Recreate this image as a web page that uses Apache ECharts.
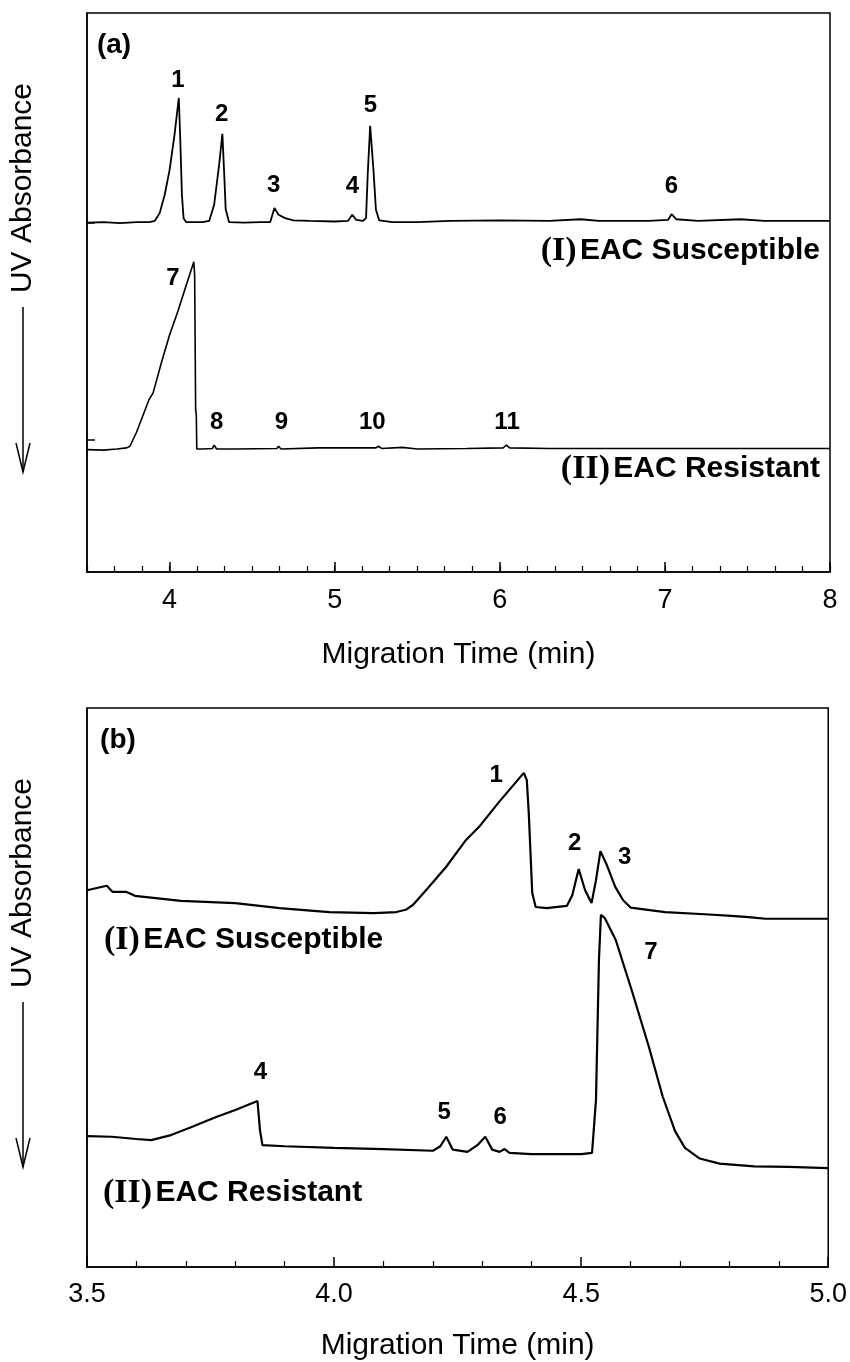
<!DOCTYPE html>
<html>
<head>
<meta charset="utf-8">
<script src="https://cdn.jsdelivr.net/npm/echarts@6/dist/echarts.min.js"></script>
<style>
  html, body { margin: 0; background: #fff; }
  #chart { width: 850px; height: 1362px; }
</style>
</head>
<body>
<div id="chart"></div>
<script>
// migration time (min), UV absorbance (arbitrary units, 0-100 per panel)
var traceA_susceptible = [
  [3.50, 62.5], [3.60, 62.6], [3.70, 62.4], [3.80, 62.6], [3.88, 62.6], [3.91, 62.8],
  [3.94, 64.2], [3.97, 67.4], [4.00, 71.9], [4.03, 78.2], [4.056, 84.8], [4.065, 77.3],
  [4.075, 67.4], [4.085, 63.3], [4.10, 62.6], [4.20, 62.6], [4.24, 62.8], [4.27, 65.7],
  [4.30, 72.8], [4.32, 78.4], [4.33, 71.9], [4.34, 64.9], [4.36, 62.6], [4.45, 62.5],
  [4.55, 62.6], [4.61, 62.6], [4.635, 65.1], [4.66, 63.9], [4.70, 63.3], [4.75, 62.9],
  [4.85, 62.8], [5.00, 62.7], [5.08, 62.8], [5.107, 63.9], [5.13, 63.0], [5.17, 62.8],
  [5.19, 63.3], [5.20, 71.0], [5.215, 79.8], [5.235, 71.9], [5.25, 64.8], [5.27, 62.9],
  [5.35, 62.6], [5.50, 62.6], [5.70, 62.8], [6.00, 62.9], [6.30, 62.8], [6.49, 63.1],
  [6.60, 62.8], [6.90, 62.8], [7.02, 63.0], [7.04, 64.0], [7.07, 63.1], [7.20, 62.8],
  [7.46, 63.1], [7.60, 62.8], [8.00, 62.8]
];
var traceA_resistant = [
  [3.50, 21.9], [3.60, 21.8], [3.68, 22.0], [3.74, 22.2], [3.76, 22.5], [3.80, 25.0],
  [3.84, 28.1], [3.875, 30.8], [3.885, 31.3], [3.90, 32.0], [3.95, 37.4], [4.00, 42.4],
  [4.05, 46.6], [4.10, 51.2], [4.147, 55.5], [4.152, 53.1], [4.158, 29.0], [4.162, 28.1],
  [4.165, 22.0], [4.20, 22.0], [4.26, 22.1], [4.27, 22.7], [4.285, 22.0], [4.40, 22.0],
  [4.65, 22.1], [4.66, 22.5], [4.675, 22.0], [4.90, 22.2], [5.15, 22.2], [5.25, 22.2],
  [5.265, 22.5], [5.285, 22.1], [5.41, 22.3], [5.50, 22.0], [5.80, 22.1], [6.02, 22.2],
  [6.04, 22.7], [6.06, 22.2], [6.30, 22.1], [6.80, 22.1], [7.20, 22.1], [8.00, 22.1]
];
var traceB_susceptible = [
  [3.50, 67.4], [3.52, 67.8], [3.54, 68.2], [3.552, 67.1], [3.58, 67.1], [3.597, 66.4],
  [3.69, 65.5], [3.80, 65.1], [3.89, 64.2], [3.99, 63.5], [4.08, 63.3], [4.126, 63.5],
  [4.145, 63.9], [4.16, 64.8], [4.19, 67.8], [4.227, 71.6], [4.267, 76.4], [4.293, 78.7],
  [4.334, 83.2], [4.384, 88.4], [4.39, 87.1], [4.394, 81.2], [4.401, 66.9], [4.408, 64.4],
  [4.43, 64.2], [4.471, 64.6], [4.482, 66.5], [4.495, 71.2], [4.508, 67.4], [4.521, 65.1],
  [4.53, 69.2], [4.539, 74.4], [4.552, 71.9], [4.569, 68.0], [4.585, 65.6], [4.60, 64.3],
  [4.67, 63.5], [4.75, 63.1], [4.804, 62.8], [4.839, 62.6], [4.873, 62.3], [5.00, 62.3]
];
var traceB_resistant = [
  [3.50, 23.4], [3.55, 23.3], [3.60, 22.9], [3.63, 22.7], [3.67, 23.6], [3.708, 24.9],
  [3.76, 26.8], [3.80, 28.1], [3.845, 29.7], [3.85, 24.5], [3.855, 21.8], [3.90, 21.6],
  [4.00, 21.3], [4.10, 21.1], [4.20, 20.8], [4.215, 21.6], [4.227, 23.3], [4.24, 21.0],
  [4.27, 20.6], [4.29, 21.8], [4.306, 23.3], [4.32, 21.0], [4.335, 20.6], [4.345, 21.1],
  [4.355, 20.4], [4.40, 20.2], [4.50, 20.2], [4.522, 20.4], [4.53, 29.9], [4.536, 54.9],
  [4.54, 63.0], [4.548, 62.4], [4.57, 58.5], [4.602, 49.6], [4.637, 39.4], [4.665, 30.5],
  [4.69, 24.3], [4.71, 21.3], [4.74, 19.4], [4.78, 18.5], [4.85, 18.0], [4.92, 17.9],
  [5.00, 17.7]
];
// peak numbers [time, absorbance, label]
var peakLabelsA = [
  [4.05, 88.0, '1'], [4.316, 81.8, '2'], [4.63, 69.2, '3'], [5.107, 68.9, '4'],
  [5.216, 83.4, '5'], [7.04, 68.9, '6'], [4.02, 52.6, '7'], [4.286, 26.7, '8'],
  [4.678, 26.7, '9'], [5.228, 26.7, '10'], [6.044, 26.8, '11']
];
var peakLabelsB = [
  [4.328, 88.0, '1'], [4.487, 75.8, '2'], [4.588, 73.3, '3'], [3.851, 34.9, '4'],
  [4.223, 27.7, '5'], [4.336, 26.7, '6'], [4.641, 56.2, '7']
];
var majorTicksA = [4, 5, 6, 7, 8];
var baselineTicksA = [62.4, 23.6];

var chart = echarts.init(document.getElementById('chart'));
var black = '#000';
var sans = 'Liberation Sans, Arial, sans-serif';
var narrow = 'Liberation Sans Narrow, Arial Narrow, Liberation Sans, sans-serif';

function traceSeries(data, xi, width) {
  return {
    type: 'line', xAxisIndex: xi, yAxisIndex: xi === 0 ? 0 : 1,
    data: data, showSymbol: false, symbol: 'none', smooth: false,
    lineStyle: { color: black, width: width },
    animation: false, silent: true
  };
}
function labelSeries(data, xi) {
  return {
    type: 'scatter', xAxisIndex: xi, yAxisIndex: xi === 0 ? 0 : 1,
    data: data, symbolSize: 1, itemStyle: { color: 'transparent', opacity: 1 },
    label: {
      show: true, position: 'inside', color: black, opacity: 1,
      fontFamily: sans, fontWeight: 'bold', fontSize: 24,
      formatter: function (p) { return p.data[2]; }
    },
    animation: false, silent: true
  };
}

var rich = {
  r: { fontFamily: 'Liberation Serif, Times New Roman, serif', fontWeight: 'bold', fontSize: 34, fill: black },
  b: { fontFamily: sans, fontWeight: 'bold', fontSize: 30, fill: black }
};
function seriesText(x, y, txt, align) {
  return {
    type: 'text', x: x, y: y,
    style: { text: txt, rich: rich, align: align, verticalAlign: 'middle', fill: black }
  };
}
function yTitle(offset) {
  return [
    { type: 'text', x: 23, y: 188 + offset, rotation: Math.PI / 2,
      style: { text: 'UV Absorbance', font: '30px ' + sans, fill: black, align: 'center', verticalAlign: 'middle' } },
    { type: 'line', shape: { x1: 23, y1: 307 + offset, x2: 23, y2: 472 + offset },
      style: { stroke: black, lineWidth: 1.5 } },
    { type: 'polyline', shape: { points: [[16, 443 + offset], [23, 472 + offset], [30, 443 + offset]] },
      style: { stroke: black, lineWidth: 1.5, fill: null } }
  ];
}

var axisLineStyle = { color: black, width: 1.5 };

chart.setOption({
  animation: false,
  grid: [
    { left: 87, top: 13, width: 743, height: 559, show: true, borderColor: black, borderWidth: 1.5 },
    { left: 87, top: 708, width: 743, height: 559, show: true, borderColor: black, borderWidth: 1.5 }
  ],
  xAxis: [
    { gridIndex: 0, type: 'value', min: 3.5, max: 8, position: 'bottom',
      axisLine: { lineStyle: axisLineStyle },
      axisTick: { inside: true, length: 10, customValues: majorTicksA, lineStyle: axisLineStyle },
      axisLabel: { customValues: majorTicksA, color: black, fontFamily: narrow, fontSize: 27, margin: 15 },
      splitLine: { show: false },
      name: 'Migration Time (min)', nameLocation: 'middle', nameGap: 68,
      nameTextStyle: { color: black, fontFamily: sans, fontSize: 30 } },
    { gridIndex: 1, type: 'value', min: 3.5, max: 5, interval: 0.5, position: 'bottom',
      axisLine: { lineStyle: axisLineStyle },
      axisTick: { inside: true, length: 10, lineStyle: axisLineStyle },
      minorTick: { show: true, splitNumber: 5, length: 6, lineStyle: { color: black, width: 1.2 } },
      axisLabel: { color: black, fontFamily: narrow, fontSize: 27, margin: 14,
        formatter: function (v) { return v.toFixed(1); } },
      splitLine: { show: false }, minorSplitLine: { show: false },
      name: 'Migration Time (min)', nameLocation: 'middle', nameGap: 64,
      nameTextStyle: { color: black, fontFamily: sans, fontSize: 30 } },
    // minor ticks every 10 s for panel (a)
    { gridIndex: 0, type: 'value', min: 3.5, max: 8, interval: 0.5, position: 'bottom', offset: 0,
      axisLine: { show: false },
      axisTick: { inside: true, length: 6, lineStyle: { color: black, width: 1.2 } },
      minorTick: { show: true, splitNumber: 3, length: 6, lineStyle: { color: black, width: 1.2 } },
      axisLabel: { show: false }, splitLine: { show: false }, minorSplitLine: { show: false } }
  ],
  yAxis: [
    { gridIndex: 0, type: 'value', min: 0, max: 100,
      axisLine: { show: true, lineStyle: axisLineStyle },
      axisTick: { show: true, inside: true, length: 8, customValues: baselineTicksA, lineStyle: axisLineStyle },
      axisLabel: { show: false }, splitLine: { show: false } },
    { gridIndex: 1, type: 'value', min: 0, max: 100,
      axisLine: { show: true, lineStyle: axisLineStyle },
      axisTick: { show: false }, axisLabel: { show: false }, splitLine: { show: false } }
  ],
  series: [
    traceSeries(traceA_susceptible, 0, 1.8),
    traceSeries(traceA_resistant, 0, 1.6),
    traceSeries(traceB_susceptible, 1, 2.2),
    traceSeries(traceB_resistant, 1, 2.2),
    labelSeries(peakLabelsA, 0),
    labelSeries(peakLabelsB, 1)
  ],
  graphic: [
    { type: 'text', x: 114, y: 45, style: { text: '(a)', font: 'bold 28px ' + sans, fill: black, align: 'center', verticalAlign: 'middle' } },
    { type: 'text', x: 118, y: 740, style: { text: '(b)', font: 'bold 28px ' + sans, fill: black, align: 'center', verticalAlign: 'middle' } },
    seriesText(820, 251, '{r|(I)} {b|EAC Susceptible}', 'right'),
    seriesText(820, 469, '{r|(II)} {b|EAC Resistant}', 'right'),
    seriesText(104, 940, '{r|(I)} {b|EAC Susceptible}', 'left'),
    seriesText(103, 1193, '{r|(II)} {b|EAC Resistant}', 'left')
  ].concat(yTitle(0), yTitle(695))
});
</script>
</body>
</html>
